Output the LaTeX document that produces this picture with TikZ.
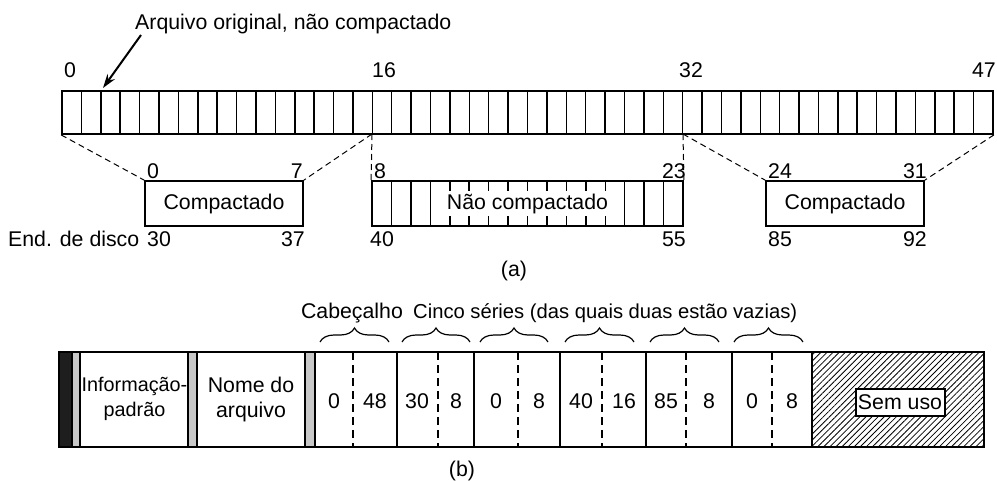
\documentclass[tikz,border=0pt]{standalone}
\usepackage{fontspec}
\setmainfont{Liberation Sans}
\usetikzlibrary{patterns.meta,decorations.pathreplacing,arrows.meta,calc}
\definecolor{bandgray}{RGB}{200,200,200}
\definecolor{bandblack}{RGB}{30,30,30}
\begin{document}
\begin{tikzpicture}[x=1pt,y=-1pt,font=\fontsize{21.3}{25}\selectfont,
  outline/.style={draw,line width=1.8pt},
  boxnode/.style={outline,inner sep=0pt,minimum height=45pt},
  cell/.style={line width=1.5pt},
  conn/.style={line width=1pt,dash pattern=on 6pt off 4pt},
  sepdash/.style={line width=1.2pt,dash pattern=on 8pt off 5pt},
  lbl/.style={inner sep=0pt},
  brc/.style={decorate,decoration={brace,amplitude=14pt},line width=1.2pt}]
\useasboundingbox (0,0) rectangle (997,480);
% ---------- (a) ----------
\node[lbl,anchor=base west] (title) at (135,29) {Arquivo original, não compactado};
\coordinate (arrowtip) at (103,88);
\draw[line width=2pt,-{Stealth[length=14pt,width=9pt]}] (141,35) -- (arrowtip);
\node[lbl,anchor=base west] (n0) at (64,77) {0};
\node[lbl,anchor=base west] (n16) at (372,77) {16};
\node[lbl,anchor=base] (n32) at (691,77) {32};
\node[lbl,anchor=base east] (n47) at (996,77) {47};
\node[boxnode,minimum width=931pt,minimum height=43pt] (strip) at (527.5,112.5) {};
\foreach \k in {1,...,47} \draw[cell] ({62+\k*19.396},91) -- ({62+\k*19.396},134);
\coordinate (s16) at (372,134);
\coordinate (s32) at (683,134);
% boxes
\node[boxnode,minimum width=158pt] (c1) at (224,203.5) {Compactado};
\node[boxnode,minimum width=311pt] (nc) at (527.5,203.5) {};
\foreach \k in {1,...,15} \draw[cell] ({372+\k*19.4375},181) -- ({372+\k*19.4375},226);
\node[lbl,fill=white,minimum width=176pt,minimum height=25pt] (nctext) at (527.5,203.5) {Não compactado};
\node[boxnode,minimum width=158pt] (c3) at (845,203.5) {Compactado};
\draw[conn] (strip.south west) -- (c1.north west);
\draw[conn] (s16) -- (c1.north east);
\draw[conn] (s16) -- (nc.north west);
\draw[conn] (s32) -- (nc.north east);
\draw[conn] (s32) -- (c3.north west);
\draw[conn] (strip.south east) -- (c3.north east);
% box labels
\node[lbl,anchor=base west] at (147,178) {0};
\node[lbl,anchor=base east] at (303,178) {7};
\node[lbl,anchor=base west] at (374,178) {8};
\node[lbl,anchor=base east] at (686,178) {23};
\node[lbl,anchor=base west] at (768,178) {24};
\node[lbl,anchor=base east] at (927,178) {31};
\node[lbl,anchor=base west] at (8,246) {End. de disco};
\node[lbl,anchor=base west] at (147,246) {30};
\node[lbl,anchor=base east] at (305,246) {37};
\node[lbl,anchor=base west] at (370,246) {40};
\node[lbl,anchor=base east] at (686,246) {55};
\node[lbl,anchor=base west] at (768,246) {85};
\node[lbl,anchor=base east] at (927,246) {92};
\node[lbl,anchor=base] (capa) at (514,276) {(a)};
% ---------- (b) ----------
\fill[pattern={Lines[angle=45,distance=4.3pt,line width=0.8pt]}] (812,352) rectangle (984,447);
\fill[bandblack] (59,352) rectangle (72,447);
\draw[cell,fill=bandgray] (72,352) rectangle (80,447);
\draw[cell,fill=bandgray] (188,352) rectangle (197,447);
\draw[cell,fill=bandgray] (305,352) rectangle (315,447);
\foreach \xx in {397,474,560,646,732,812} \draw[cell] (\xx,352) -- (\xx,447);
\foreach \xx in {353,438,518,602,686,772} \draw[sepdash] (\xx,352) -- (\xx,447);
\draw[outline] (59,352) rectangle (984,447);
\node[lbl,align=center,font=\fontsize{19.8}{25}\selectfont] (info) at (134.5,399) {Informação-\\padrão};
\node[lbl,align=center] (nome) at (251,399) {Nome do\\arquivo};
\foreach \xx/\t in {334/0,375/48,417/30,456/8,496/0,539/8,581/40,624/16,666/85,709/8,752/0,792/8}
  \node[lbl,anchor=base] at (\xx,408) {\t};
\node[outline,line width=2pt,fill=white,inner sep=0pt,minimum width=89pt,minimum height=27pt] (semuso) at (900,402.5) {Sem uso};
% braces
\foreach \a/\b in {320/389,402/470,480/548,565/634,650/719,734/803}
  \draw[brc] (\a,342) -- (\b,342);
\node[lbl,anchor=base] (cab) at (352,318) {Cabeçalho};
\node[lbl,anchor=base west,font=\fontsize{20.2}{25}\selectfont] (cinco) at (413,318) {Cinco séries (das quais duas estão vazias)};
\node[lbl,anchor=base] (capb) at (462,476) {(b)};
\end{tikzpicture}
\end{document}
